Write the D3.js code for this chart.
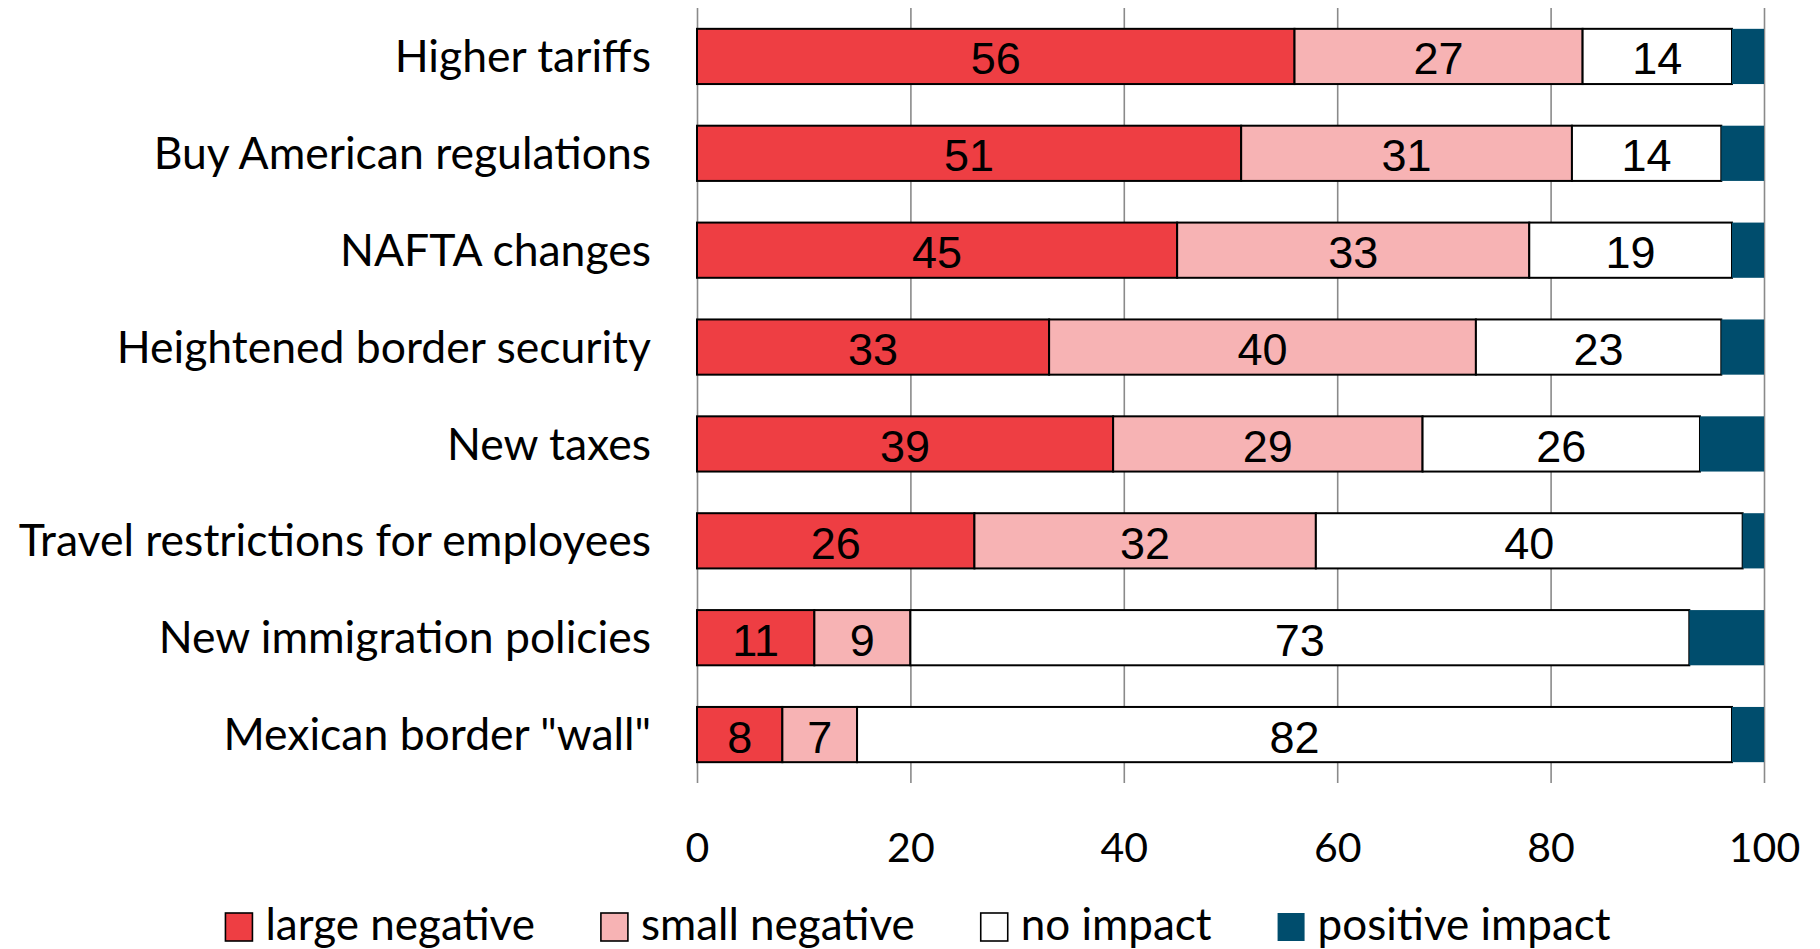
<!DOCTYPE html>
<html>
<head>
<meta charset="utf-8">
<script src="https://cdn.jsdelivr.net/npm/d3@7"></script>
<style>
  html, body { margin: 0; padding: 0; background: #fff; }
  svg { display: block; }
</style>
</head>
<body>
<svg id="chart" width="1820" height="949"></svg>
<script>
// Perceived impact of policy changes on business (percent of respondents)
const categories = [
  "Higher tariffs",
  "Buy American regulations",
  "NAFTA changes",
  "Heightened border security",
  "New taxes",
  "Travel restrictions for employees",
  "New immigration policies",
  "Mexican border \"wall\""
];
const seriesNames = ["large negative", "small negative", "no impact", "positive impact"];
const largeNegative = [56, 51, 45, 33, 39, 26, 11, 8];
const smallNegative = [27, 31, 33, 40, 29, 32, 9, 7];
const noImpact      = [14, 14, 19, 23, 26, 40, 73, 82];
const positiveImpact = [3, 4, 3, 4, 6, 2, 7, 3];
const xTicks = [0, 20, 40, 60, 80, 100];

const colors = ["#EE3E43", "#F7B3B4", "#FFFFFF", "#004D6D"];
const outlined = [true, true, true, false];
const labelled = [true, true, true, false];

const seriesValues = [largeNegative, smallNegative, noImpact, positiveImpact];
const rows = categories.map((c, i) => {
  const r = { category: c };
  seriesNames.forEach((s, k) => { r[s] = seriesValues[k][i]; });
  return r;
});
const stacked = d3.stack().keys(seriesNames)(rows);

const svg = d3.select("#chart");
const labelFont = "Lato, 'Open Sans', sans-serif";
const valueFont = "'Liberation Sans', Arial, sans-serif";

const x = d3.scaleLinear().domain([0, 100]).range([697, 1764]);
const y = d3.scaleBand().domain(categories).range([8, 783])
  .paddingInner(0.43).paddingOuter(0.215);

// vertical gridlines + tick labels
const axis = d3.axisBottom(x).tickValues(xTicks).tickSizeInner(-(783 - 8)).tickSizeOuter(0);
const gAxis = svg.append("g").attr("transform", "translate(0,783)").call(axis);
gAxis.select(".domain").remove();
gAxis.selectAll(".tick line").attr("stroke", "#8a8a8a").attr("stroke-width", 1.6);
gAxis.selectAll(".tick text")
  .attr("y", 79).attr("dy", 0)
  .attr("fill", "#000")
  .style("font-family", labelFont)
  .style("font-size", "41px");

// stacked bar segments
const layers = svg.append("g").selectAll("g").data(stacked).join("g");
layers.each(function(layer, k) {
  const g = d3.select(this);
  g.selectAll("rect").data(layer).join("rect")
    .attr("x", d => x(d[0]))
    .attr("y", d => y(d.data.category))
    .attr("width", d => x(d[1]) - x(d[0]))
    .attr("height", y.bandwidth())
    .attr("fill", colors[k])
    .attr("stroke", outlined[k] ? "#000" : "none")
    .attr("stroke-width", outlined[k] ? 2 : 0);
  if (labelled[k]) {
    g.selectAll("text").data(layer).join("text")
      .attr("x", d => (x(d[0]) + x(d[1])) / 2)
      .attr("y", d => y(d.data.category) + y.bandwidth() / 2)
      .attr("dy", "0.40em")
      .attr("text-anchor", "middle")
      .style("font-family", valueFont)
      .style("font-size", "45px")
      .attr("fill", "#000")
      .text(d => d[1] - d[0]);
  }
});

// category labels
svg.append("g").selectAll("text").data(categories).join("text")
  .attr("x", 651)
  .attr("y", d => y(d) + y.bandwidth() / 2)
  .attr("dy", "0.35em")
  .attr("text-anchor", "end")
  .style("font-family", labelFont)
  .style("font-size", "44.5px")
  .attr("fill", "#000")
  .text(d => d);

// legend
const legend = svg.append("g");
const swW = 27, swH = 28, swGap = 13, itemGap = 66, legendCenter = 918, legendBase = 940;
const items = legend.selectAll("g").data(seriesNames).join("g");
items.append("rect")
  .attr("width", swW).attr("height", swH)
  .attr("y", legendBase - swH + 1)
  .attr("fill", (d, i) => colors[i])
  .attr("stroke", (d, i) => outlined[i] ? "#000" : "none")
  .attr("stroke-width", 1.6);
items.append("text")
  .attr("x", swW + swGap)
  .attr("y", legendBase)
  .style("font-family", labelFont)
  .style("font-size", "44px")
  .attr("fill", "#000")
  .text(d => d);
const widths = [];
items.each(function() { widths.push(d3.select(this).select("text").node().getComputedTextLength()); });
const itemWidths = widths.map(w => swW + swGap + w);
const total = d3.sum(itemWidths) + itemGap * (itemWidths.length - 1);
let cx = legendCenter - total / 2;
items.each(function(d, i) {
  d3.select(this).attr("transform", `translate(${cx},0)`);
  cx += itemWidths[i] + itemGap;
});
</script>
</body>
</html>
